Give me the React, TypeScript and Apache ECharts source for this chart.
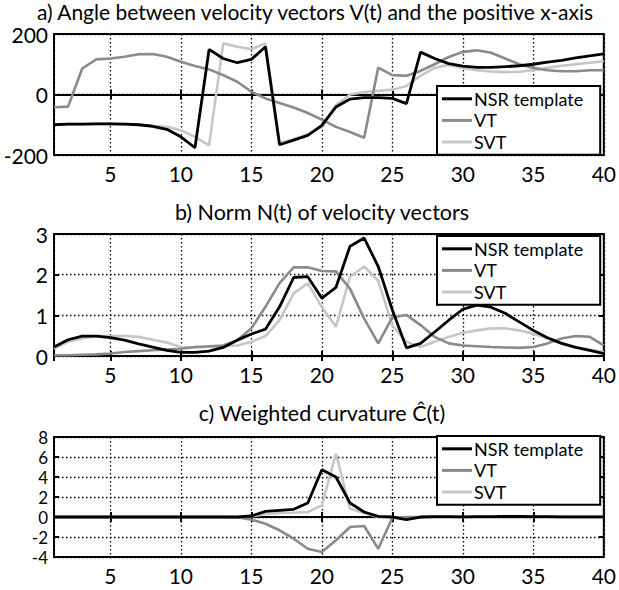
import React, { useEffect, useRef } from "react";
import * as echarts from "echarts";

const T = [1, 2, 3, 4, 5, 6, 7, 8, 9, 10, 11, 12, 13, 14, 15, 16, 17, 18, 19, 20, 21, 22, 23, 24, 25, 26, 27, 28, 29, 30, 31, 32, 33, 34, 35, 36, 37, 38, 39, 40];

const SERIES_NAMES = ["NSR template", "VT", "SVT"];

// a) angle
const angleNSR = [-100, -98, -98, -97, -97, -98, -100, -105, -115, -140, -176, 149, 119, 105, 116, 158, -166, -151, -135, -102, -41, -15, -10, -10, -13, -30, 140, 119, 102, 94, 90, 90, 92, 95, 100, 107, 113, 121, 128, 134];
const angleVT = [-42, -40, 86, 116, 119, 125, 133, 134, 125, 108, 94, 83, 64, 42, 9, -13, -28, -43, -61, -83, -107, -124, -143, 89, 64, 62, 78, 100, 124, 141, 146, 138, 119, 100, 88, 80, 77, 77, 80, 80];
const angleSVT = [-100, -98, -98, -97, -97, -98, -100, -104, -107, -118, -140, -168, 169, 158, 150, 169, -160, -148, -132, -108, -35, 0, 8, 12, 16, 28, 62, 88, 98, 88, 80, 76, 74, 75, 80, 88, 95, 100, 105, 110];

// b) norm
const normNSR = [0.22, 0.4, 0.49, 0.49, 0.45, 0.39, 0.3, 0.22, 0.14, 0.09, 0.09, 0.12, 0.21, 0.39, 0.54, 0.66, 1.21, 1.93, 1.95, 1.42, 1.69, 2.7, 2.9, 2.2, 1.13, 0.2, 0.31, 0.59, 0.88, 1.15, 1.25, 1.2, 1.05, 0.84, 0.63, 0.45, 0.31, 0.21, 0.14, 0.06];
const normVT = [0.02, 0.02, 0.03, 0.04, 0.06, 0.1, 0.12, 0.14, 0.16, 0.18, 0.22, 0.24, 0.26, 0.39, 0.68, 1.21, 1.79, 2.18, 2.18, 2.09, 2.08, 1.65, 0.92, 0.31, 0.95, 1.01, 0.76, 0.47, 0.31, 0.26, 0.24, 0.22, 0.21, 0.2, 0.22, 0.31, 0.43, 0.49, 0.47, 0.26];
const normSVT = [0.18, 0.35, 0.43, 0.49, 0.49, 0.49, 0.47, 0.4, 0.33, 0.22, 0.21, 0.22, 0.24, 0.26, 0.35, 0.49, 0.88, 1.54, 1.79, 1.2, 0.72, 1.95, 2.2, 1.85, 0.75, 0.35, 0.22, 0.35, 0.47, 0.57, 0.63, 0.68, 0.68, 0.63, 0.55, 0.43, 0.32, 0.22, 0.16, 0.1];

// c) weighted curvature
const curvNSR = [0, 0, 0, 0, 0, 0, 0, 0, 0, 0, 0, 0, 0, 0, 0.1, 0.57, 0.67, 0.77, 1.4, 4.73, 4.0, 1.4, 0.5, 0.07, 0, -0.27, 0, 0.03, 0.03, 0.02, 0.03, 0.04, 0.05, 0.05, 0.04, 0.03, 0.02, 0.02, 0.02, 0.02];
const curvVT = [0, 0, 0, 0, 0, 0, 0, 0, 0, 0, 0, 0, 0, -0.02, -0.27, -0.67, -1.33, -2.17, -3.17, -3.5, -2.33, -1.0, -0.9, -3.17, -0.07, 0, 0, 0, 0, 0, 0, 0, 0, 0, 0, 0, 0, 0, 0, 0];
const curvSVT = [0, 0, 0, 0, 0, 0, 0, 0, 0, 0, 0, 0, 0, 0, 0.07, 0.27, 0.4, 0.43, 0.5, 1.17, 6.33, 0.83, 0.4, 0, -0.07, -0.05, 0, 0, 0, 0, 0, 0, 0, 0, 0, 0, 0, 0, 0, 0];

const TITLES = [
  "a) Angle between velocity vectors V(t) and the positive x-axis",
  "b) Norm N(t) of velocity vectors",
  "c) Weighted curvature \u0108(t)",
];
const Y_MIN = [-200, 0, -4];
const Y_MAX = [200, 3, 8];
const Y_STEP = [200, 1, 2];

const FONT = "Lato";
const COLORS = ["#000000", "#8a8a8a", "#c6c6c6"];

const LAYOUT = [
  { top: 34, height: 121, legendTop: 86, titleX: 315, titleY: 11, yFont: 21 },
  { top: 234, height: 122, legendTop: 236, titleX: 322, titleY: 212, yFont: 21 },
  { top: 437, height: 120, legendTop: 436, titleX: 322, titleY: 413, yFont: 17 },
];

export default function App() {
  const ref = useRef<HTMLDivElement>(null);

  useEffect(() => {
    if (!ref.current) return;
    const chart = echarts.init(ref.current, undefined, { renderer: "svg" });
    const data = [
      [angleNSR, angleVT, angleSVT],
      [normNSR, normVT, normSVT],
      [curvNSR, curvVT, curvSVT],
    ];
    const dotted = { color: "#000", width: 1.3, type: [1.5, 2.5] as any };
    const grids: any[] = [];
    const xAxes: any[] = [];
    const yAxes: any[] = [];
    const series: any[] = [];
    const legends: any[] = [];
    const graphics: any[] = [];

    LAYOUT.forEach((L, i) => {
      grids.push({
        left: 54,
        top: L.top,
        width: 553,
        height: L.height,
        show: true,
        borderColor: "#000",
        borderWidth: 2,
        backgroundColor: "#fff",
      });
      const xBase = {
        gridIndex: i,
        type: "value",
        min: 1,
        max: 40,
        splitNumber: 8,
      };
      xAxes.push({
        ...xBase,
        position: "bottom",
        axisLine: { show: true, lineStyle: { color: "#000", width: 2 } },
        axisTick: { show: true, inside: true, length: 5, lineStyle: { color: "#000", width: 2 } },
        axisLabel: {
          color: "#000",
          fontFamily: FONT,
          fontSize: 21,
          margin: 8,
          formatter: (v: number) => (v % 5 === 0 ? String(v) : ""),
        },
        splitLine: { show: true, lineStyle: dotted },
      });
      xAxes.push({
        ...xBase,
        position: "top",
        axisLine: { show: false },
        axisTick: { show: true, inside: true, length: 5, lineStyle: { color: "#000", width: 2 } },
        axisLabel: { show: false },
        splitLine: { show: false },
      });
      const yBase = {
        gridIndex: i,
        type: "value",
        min: Y_MIN[i],
        max: Y_MAX[i],
        interval: Y_STEP[i],
      };
      yAxes.push({
        ...yBase,
        position: "left",
        axisLine: { show: true, lineStyle: { color: "#000", width: 2 } },
        axisTick: { show: true, inside: true, length: 5, lineStyle: { color: "#000", width: 2 } },
        axisLabel: {
          color: "#000",
          fontFamily: FONT,
          fontSize: L.yFont,
          lineHeight: L.yFont - 2,
          margin: 6,
          showMinLabel: true,
          showMaxLabel: true,
          hideOverlap: false,
        },
        splitLine: { show: true, lineStyle: dotted },
      });
      yAxes.push({
        ...yBase,
        position: "right",
        axisLine: { show: false },
        axisTick: { show: true, inside: true, length: 5, lineStyle: { color: "#000", width: 2 } },
        axisLabel: { show: false },
        splitLine: { show: false },
      });
      data[i].forEach((vals, k) => {
        series.push({
          name: SERIES_NAMES[k],
          type: "line",
          xAxisIndex: 2 * i,
          yAxisIndex: 2 * i,
          data: T.map((t, j) => [t, vals[j]]),
          symbol: "none",
          showSymbol: false,
          z: k === 0 ? 4 : 3 - k + 1,
          lineStyle: { color: COLORS[k], width: k === 0 ? 2.8 : 2.6 },
          itemStyle: { color: COLORS[k] },
        });
      });
      legends.push({
        orient: "vertical",
        left: 437,
        top: L.legendTop,
        icon: "rect",
        itemWidth: 30,
        itemHeight: 3,
        itemGap: 0,
        padding: [2, 17, 2, 5],
        backgroundColor: "#fff",
        borderColor: "#000",
        borderWidth: 2,
        borderRadius: 0,
        selectedMode: false,
        z: 10,
        textStyle: { fontFamily: FONT, fontSize: 18, color: "#000", lineHeight: 21.6, padding: [0, 0, 0, -3] },
        data: SERIES_NAMES,
      });
      graphics.push({
        type: "text",
        x: L.titleX,
        y: L.titleY,
        style: {
          text: TITLES[i],
          fontFamily: FONT,
          fontSize: i === 0 ? 21 : 21.5,
          fill: "#000",
          align: "center",
          verticalAlign: "middle",
        },
      });
    });

    chart.setOption({
      animation: false,
      backgroundColor: "#fff",
      textStyle: { fontFamily: FONT },
      grid: grids,
      xAxis: xAxes,
      yAxis: yAxes,
      legend: legends,
      series,
      graphic: graphics,
    });
    return () => chart.dispose();
  }, []);

  return (
    <div
      ref={ref}
      style={{ position: "fixed", left: 0, top: 0, width: 619, height: 590, background: "#fff" }}
    />
  );
}
